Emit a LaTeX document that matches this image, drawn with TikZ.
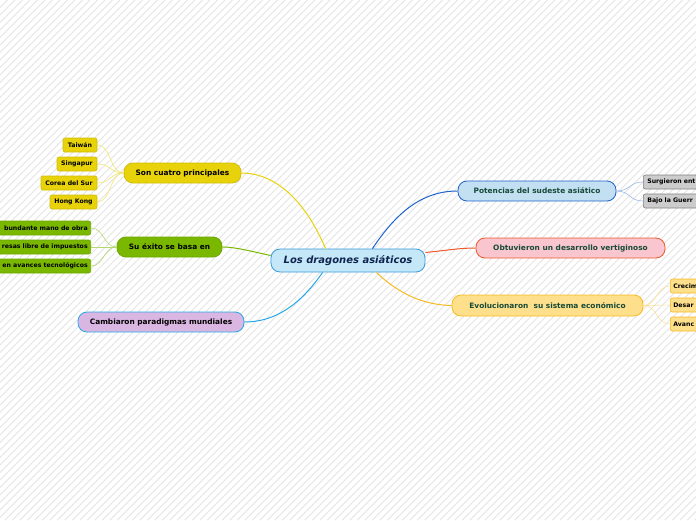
\documentclass[tikz,border=0pt]{standalone}
\usepackage{fontspec}
\setmainfont{DejaVu Sans}
\definecolor{navy}{HTML}{0F2450}
\definecolor{dkgreen}{HTML}{164A38}
\definecolor{hatch}{HTML}{E4E4E4}
\definecolor{cblue}{HTML}{C5E8F8}
\definecolor{bblue}{HTML}{3A9AD9}
\definecolor{yel}{HTML}{E8D20A}
\definecolor{grn}{HTML}{7AB800}
\definecolor{lav}{HTML}{DAB6E2}
\definecolor{sky}{HTML}{27A8E8}
\definecolor{pblue}{HTML}{C3DFF2}
\definecolor{dblue}{HTML}{1E64CC}
\definecolor{pink}{HTML}{F9C6CF}
\definecolor{red}{HTML}{F0582A}
\definecolor{sand}{HTML}{FDDF8C}
\definecolor{gold}{HTML}{F7BA20}
\definecolor{lgrey}{HTML}{CCCCCC}
\tikzset{
  topic/.style={draw, rounded corners=9pt, line width=0.8pt, minimum height=20pt,
    inner sep=0pt, font=\fontsize{7.4}{8}\selectfont\bfseries},
  leaf/.style={draw, rounded corners=2pt, line width=0.6pt, minimum height=14pt,
    inner sep=0pt, font=\fontsize{6.2}{7}\selectfont\bfseries},
  branch/.style={line width=1pt},
  twig/.style={line width=0.6pt}
}
\begin{document}
\begin{tikzpicture}[x=1pt,y=-1pt]
    \useasboundingbox (0,0) rectangle (696,520);
    \clip (0,0) rectangle (696,520);
    % hatched background
    \foreach \i in {-520,-512.5,...,700}
        \draw[hatch, line width=0.8pt] (\i,520) -- (\i+520,0);

    % central topic
    \node[draw=bblue, fill=cblue, text=navy, rounded corners=9pt, line width=0.8pt,
      minimum width=154pt, minimum height=23pt, inner sep=0pt,
      font=\fontsize{10}{11}\selectfont\bfseries\itshape] (root) at (348,260.5) {Los dragones asiáticos};

    % left side
    \node[topic, fill=yel, draw=yel!90!black, minimum width=117pt] (cuatro) at (182.5,173) {Son cuatro principales};
    \node[topic, fill=grn, draw=grn!90!black, minimum width=105pt] (exito) at (169.5,247) {Su éxito se basa en};
    \node[topic, fill=lav, draw=sky, minimum width=166pt] (paradigmas) at (161,322) {Cambiaron paradigmas mundiales};

    % right side
    \node[topic, fill=pblue, draw=dblue, text=dkgreen, minimum width=158pt] (potencias) at (537,191) {Potencias del sudeste asiático};
    \node[topic, fill=pink, draw=red, text=dkgreen, minimum width=189pt] (desarrollo) at (570.5,248) {Obtuvieron un desarrollo vertiginoso};
    \node[topic, fill=sand, draw=gold, text=dkgreen, minimum width=191pt, minimum height=21pt] (sistema) at (547.5,305.5) {Evolucionaron\ \ su sistema económico};

    % main branches
    \draw[branch, yel] (root.north west) ++(55,0) .. controls (305,200) and (275,173) .. (cuatro.east);
    \draw[branch, grn] (root.west) ++(0,-5) .. controls (250,251) and (235,247) .. (exito.east);
    \draw[branch, sky] (root.south west) ++(52,0) .. controls (300,305) and (275,322) .. (paradigmas.east);
    \draw[branch, dblue] (root.north east) ++(-53,0) .. controls (395,215) and (420,191) .. (potencias.west);
    \draw[branch, red] (root.east) ++(0,-8) .. controls (450,250) and (460,248) .. (desarrollo.west);
    \draw[branch, gold] (root.south east) ++(-49,0) .. controls (400,295) and (425,305) .. (sistema.west);

    % yellow leaves
    \node[leaf, fill=yel, draw=yel!90!black, minimum width=34pt] (taiwan) at (80,145) {Taiwán};
    \node[leaf, fill=yel, draw=yel!90!black, minimum width=40pt] (singapur) at (77,164) {Singapur};
    \node[leaf, fill=yel, draw=yel!90!black, minimum width=56pt] (corea) at (69,183) {Corea del Sur};
    \node[leaf, fill=yel, draw=yel!90!black, minimum width=47pt] (hongkong) at (73.5,202) {Hong Kong};
    \foreach \n in {taiwan,singapur,corea,hongkong}
        \draw[twig, yel!60] (cuatro.west) .. controls +(-14,0) and +(14,0) .. (\n.east);

    % green leaves
    \node[leaf, fill=grn, draw=grn!90!black, anchor=east, text width=110pt, align=right, inner xsep=3pt] (mano) at (91,228) {bundante mano de obra};
    \node[leaf, fill=grn, draw=grn!90!black, anchor=east, text width=110pt, align=right, inner xsep=3pt] (impuestos) at (91,247) {resas libre de impuestos};
    \node[leaf, fill=grn, draw=grn!90!black, anchor=east, text width=110pt, align=right, inner xsep=3pt] (avances) at (91,266) {en avances tecnológicos};
    \foreach \n in {mano,impuestos,avances}
        \draw[twig, grn!55] (exito.west) .. controls +(-13,0) and +(13,0) .. (\n.east);

    % grey leaves
    \node[leaf, fill=lgrey, draw=gray, anchor=west, text width=70pt, align=left, inner xsep=4pt] (surgieron) at (643,182) {Surgieron ent};
    \node[leaf, fill=lgrey, draw=gray, anchor=west, text width=70pt, align=left, inner xsep=4pt] (guerra) at (643,201) {Bajo la Guerr};
    \foreach \n in {surgieron,guerra}
        \draw[twig, dblue!45] (potencias.east) .. controls +(14,0) and +(-14,0) .. (\n.west);

    % orange leaves
    \node[leaf, fill=sand, draw=gold, anchor=west, text width=60pt, align=left, inner xsep=3pt] (crecim) at (670,286) {Crecim};
    \node[leaf, fill=sand, draw=gold, anchor=west, text width=60pt, align=left, inner xsep=3pt] (desar) at (670,305) {Desar};
    \node[leaf, fill=sand, draw=gold, anchor=west, text width=60pt, align=left, inner xsep=3pt] (avanc) at (670,324) {Avanc};
    \foreach \n in {crecim,desar,avanc}
        \draw[twig, gold!45] (sistema.east) .. controls +(14,0) and +(-14,0) .. (\n.west);
\end{tikzpicture}
\end{document}
